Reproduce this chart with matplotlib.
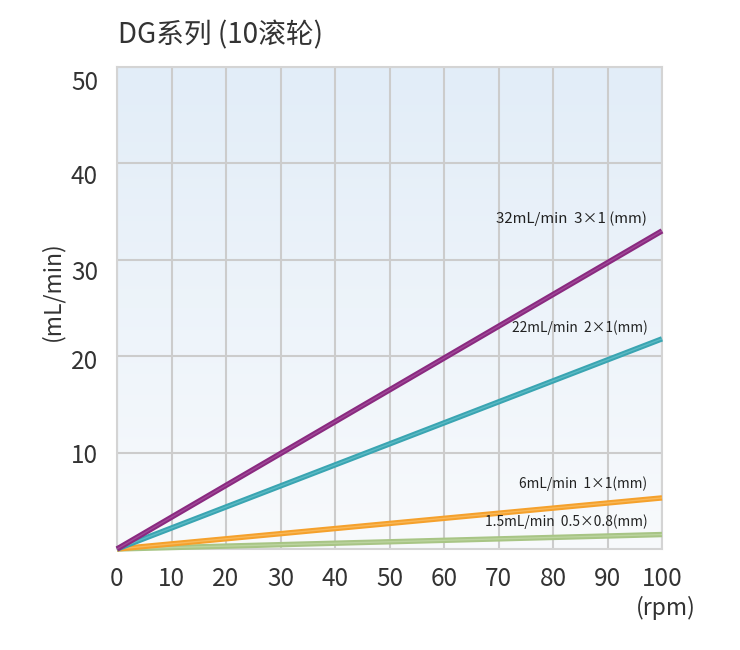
import numpy as np
import matplotlib
matplotlib.use("Agg")
import matplotlib.pyplot as plt
from matplotlib.colors import LinearSegmentedColormap
from matplotlib.transforms import offset_copy

plt.rcParams['font.family'] = ['Noto Sans CJK SC', 'DejaVu Sans']

# data
rpm = [0, 100]
flow_32 = [0, 33.0]
flow_22 = [0, 21.8]
flow_6 = [0, 5.3]
flow_15 = [0, 1.5]
labels = ["32mL/min  3×1 (mm)", "22mL/min  2×1(mm)",
          "6mL/min  1×1(mm)", "1.5mL/min  0.5×0.8(mm)"]
label_y = [34.3, 23.0, 6.8, 2.8]
x_ticks = list(range(0, 101, 10))
y_ticks = [10, 20, 30, 40, 50]

colors = ['#8a2a80', '#3aa5b2', '#f5a12c', '#a8c585']
highlights = ['#a04898', '#5cbac4', '#f8b85a', '#bcd4a0']
label_sizes = [10.8, 9.9, 9.9, 9.9]
text_col = '#333333'

fig = plt.figure(figsize=(7.4, 6.5), dpi=100)
ax = fig.add_axes([117 / 740, 1 - 549 / 650, 545 / 740, 482 / 650])

# gradient background
grad = LinearSegmentedColormap.from_list('bg', ['#f8fafc', '#e2edf8'])
ax.imshow(np.linspace(0, 1, 256).reshape(-1, 1), cmap=grad, origin='lower',
          extent=[0, 1, 0, 1], transform=ax.transAxes, aspect='auto', zorder=0)

ax.set_xlim(0, 100)
ax.set_ylim(0, 50)
ax.set_xticks(x_ticks)
ax.set_yticks(y_ticks)
ax.grid(True, color='#cccccc', linewidth=1.5, zorder=1)
ax.tick_params(length=0, labelsize=17.5, colors=text_col)
ax.tick_params(axis='x', pad=12)
ax.set_yticklabels([])
for s in ax.spines.values():
    s.set_color('#d4d4d4')
    s.set_linewidth(1.5)

# y tick labels drawn by hand (offsets as in reference)
yoffs = [-3, -6, -13, -14, -16]
for v, dy in zip(y_ticks, yoffs):
    tr = offset_copy(ax.get_yaxis_transform(), fig=fig, x=-19 * 0.72, y=dy * 0.72, units='points')
    ax.text(0, v, str(v), transform=tr, ha='right', va='center',
            fontsize=17.5, color=text_col)

series = [flow_32, flow_22, flow_6, flow_15]
for i in [3, 2, 1, 0]:
    ax.plot(rpm, series[i], color=colors[i], linewidth=3.9,
            solid_capstyle='butt', zorder=3, clip_on=False)
    ax.plot(rpm, series[i], color=highlights[i], linewidth=1.0,
            solid_capstyle='butt', zorder=3, clip_on=False)

for lab, yy, fs in zip(labels, label_y, label_sizes):
    ax.text(97.3, yy, lab, ha='right', va='center', fontsize=fs,
            color='#222222', zorder=4)

fig.text(118 / 740, 1 - 35 / 650, "DG系列 (10滚轮)", fontsize=20,
         color=text_col, ha='left', va='center')
fig.text(52 / 740, 1 - 291 / 650, "(mL/min)", fontsize=16.5, color=text_col,
         rotation=90, ha='center', va='center')
fig.text(666 / 740, 1 - 608 / 650, "(rpm)", fontsize=16.5, color=text_col,
         ha='center', va='center')

fig.savefig("out.png", dpi=100)
